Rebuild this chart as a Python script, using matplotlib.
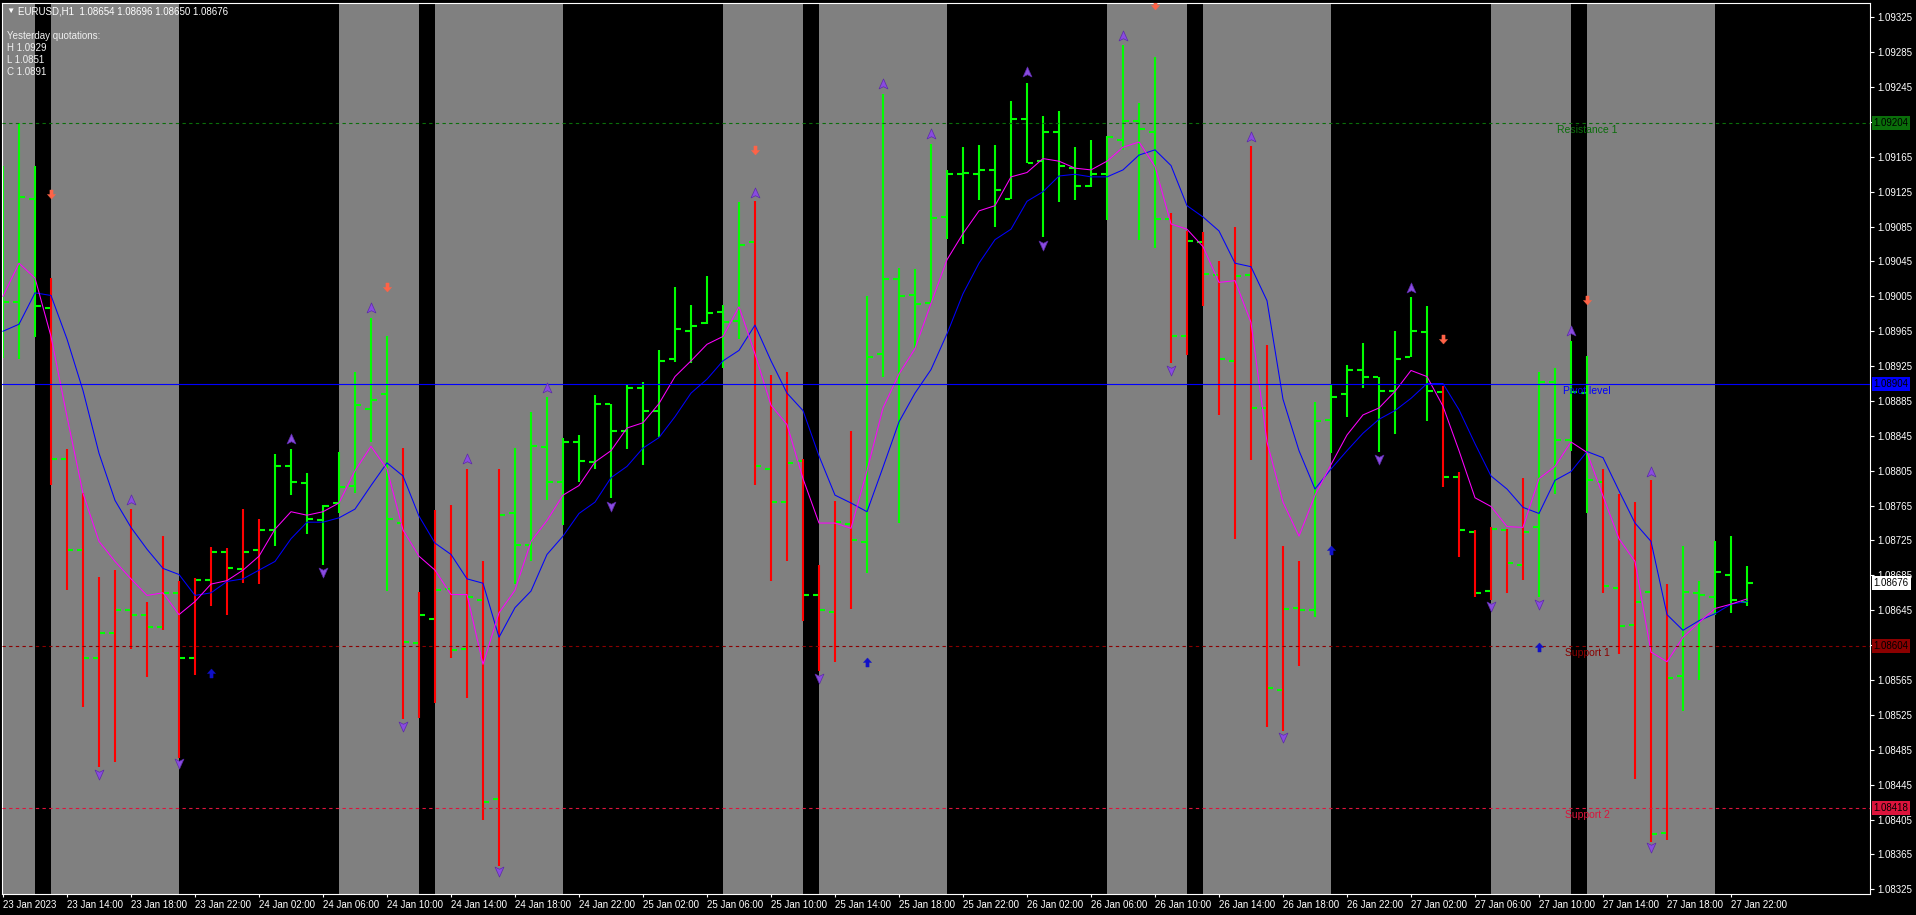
import numpy as np
import pandas as pd
import matplotlib
matplotlib.use("Agg")
import matplotlib.pyplot as plt
from matplotlib.path import Path
from matplotlib.transforms import blended_transform_factory

plt.rcParams["font.family"] = ["Liberation Sans", "DejaVu Sans"]

# ---- data (EURUSD H1, 23-27 Jan 2023) ----
times = pd.date_range("2023-01-23 10:00", periods=110, freq="h")

opens = [1.08960, 1.08999, 1.09117, 1.08992, 1.08818, 1.08714, 1.08590, 1.08619, 1.08645, 1.08640,
         1.08626, 1.08665, 1.08590, 1.08680, 1.08712, 1.08692, 1.08714, 1.08737, 1.08810, 1.08791,
         1.08748, 1.08768, 1.08788, 1.08876, 1.08893, 1.08745, 1.08608, 1.08635, 1.08669, 1.08601,
         1.08657, 1.08429, 1.08756, 1.08720, 1.08832, 1.08792, 1.08838, 1.08815, 1.08882, 1.08850,
         1.08900, 1.08873, 1.08933, 1.08965, 1.08974, 1.08987, 1.08977, 1.09067, 1.08807, 1.08769,
         1.08816, 1.08663, 1.08643, 1.08744, 1.08723, 1.08939, 1.09025, 1.09007, 1.08997, 1.09096,
         1.09145, 1.09145, 1.09150, 1.09117, 1.09208, 1.09160, 1.09194, 1.09152, 1.09131, 1.09145,
         1.09184, 1.09206, 1.09193, 1.09094, 1.08959, 1.09067, 1.09030, 1.08931, 1.09029, 1.08877,
         1.08554, 1.08648, 1.08645, 1.08863, 1.08893, 1.08920, 1.08912, 1.08896, 1.08935, 1.08964,
         1.08895, 1.08798, 1.08735, 1.08667, 1.08737, 1.08697, 1.08740, 1.08907, 1.08840, 1.08894,
         1.08792, 1.08671, 1.08628, 1.08666, 1.08390, 1.08570, 1.08665, 1.08660, 1.08686, 1.08654]
highs = [1.09155, 1.09204, 1.09154, 1.09026, 1.08830, 1.08779, 1.08683, 1.08691, 1.08761, 1.08654,
         1.08730, 1.08678, 1.08682, 1.08718, 1.08716, 1.08761, 1.08750, 1.08824, 1.08830, 1.08802,
         1.08766, 1.08827, 1.08918, 1.08980, 1.08960, 1.08831, 1.08666, 1.08760, 1.08766, 1.08807,
         1.08701, 1.08807, 1.08831, 1.08872, 1.08890, 1.08843, 1.08846, 1.08892, 1.08882, 1.08905,
         1.08907, 1.08943, 1.09016, 1.08995, 1.09028, 1.08995, 1.09113, 1.09114, 1.08915, 1.08918,
         1.08818, 1.08697, 1.08770, 1.08850, 1.09005, 1.09237, 1.09037, 1.09036, 1.09180, 1.09150,
         1.09176, 1.09179, 1.09179, 1.09229, 1.09250, 1.09212, 1.09218, 1.09176, 1.09184, 1.09189,
         1.09293, 1.09227, 1.09279, 1.09101, 1.09080, 1.09079, 1.09046, 1.09084, 1.09177, 1.08949,
         1.08719, 1.08701, 1.08884, 1.08903, 1.08926, 1.08952, 1.08913, 1.08965, 1.09004, 1.08994,
         1.08902, 1.08803, 1.08737, 1.08740, 1.08738, 1.08797, 1.08918, 1.08923, 1.08954, 1.08937,
         1.08807, 1.08778, 1.08769, 1.08794, 1.08675, 1.08719, 1.08678, 1.08724, 1.08730, 1.08696]
lows = [1.08934, 1.08933, 1.08958, 1.08789, 1.08668, 1.08534, 1.08465, 1.08471, 1.08601, 1.08568,
        1.08622, 1.08476, 1.08571, 1.08650, 1.08640, 1.08676, 1.08675, 1.08719, 1.08777, 1.08733,
        1.08697, 1.08756, 1.08779, 1.08838, 1.08667, 1.08520, 1.08521, 1.08539, 1.08590, 1.08544,
        1.08405, 1.08352, 1.08675, 1.08701, 1.08771, 1.08743, 1.08792, 1.08807, 1.08774, 1.08830,
        1.08812, 1.08844, 1.08930, 1.08929, 1.08973, 1.08923, 1.08956, 1.08789, 1.08678, 1.08701,
        1.08633, 1.08575, 1.08586, 1.08646, 1.08688, 1.08912, 1.08745, 1.08946, 1.08997, 1.09071,
        1.09065, 1.09115, 1.09084, 1.09117, 1.09158, 1.09073, 1.09113, 1.09116, 1.09130, 1.09093,
        1.09173, 1.09070, 1.09060, 1.08928, 1.08938, 1.08994, 1.08869, 1.08727, 1.08817, 1.08511,
        1.08507, 1.08581, 1.08637, 1.08825, 1.08867, 1.08900, 1.08827, 1.08847, 1.08935, 1.08862,
        1.08786, 1.08706, 1.08660, 1.08657, 1.08665, 1.08680, 1.08660, 1.08778, 1.08828, 1.08756,
        1.08665, 1.08595, 1.08452, 1.08379, 1.08382, 1.08529, 1.08565, 1.08640, 1.08642, 1.08650]
closes = [1.08998, 1.09119, 1.08994, 1.08818, 1.08714, 1.08590, 1.08619, 1.08645, 1.08640, 1.08626,
          1.08665, 1.08590, 1.08680, 1.08712, 1.08693, 1.08712, 1.08737, 1.08810, 1.08792, 1.08750,
          1.08765, 1.08786, 1.08880, 1.08886, 1.08750, 1.08609, 1.08640, 1.08668, 1.08599, 1.08660,
          1.08425, 1.08754, 1.08720, 1.08833, 1.08792, 1.08838, 1.08816, 1.08882, 1.08851, 1.08900,
          1.08874, 1.08931, 1.08967, 1.08971, 1.08986, 1.08976, 1.09064, 1.08811, 1.08769, 1.08814,
          1.08662, 1.08645, 1.08746, 1.08725, 1.08935, 1.09025, 1.09005, 1.08996, 1.09095, 1.09145,
          1.09147, 1.09150, 1.09127, 1.09208, 1.09158, 1.09193, 1.09155, 1.09132, 1.09145, 1.09188,
          1.09206, 1.09197, 1.09094, 1.08959, 1.09069, 1.09031, 1.08933, 1.09028, 1.08877, 1.08556,
          1.08646, 1.08645, 1.08862, 1.08890, 1.08920, 1.08913, 1.08896, 1.08933, 1.08965, 1.08896,
          1.08798, 1.08737, 1.08665, 1.08738, 1.08699, 1.08735, 1.08907, 1.08840, 1.08895, 1.08794,
          1.08673, 1.08627, 1.08654, 1.08388, 1.08567, 1.08666, 1.08662, 1.08689, 1.08657, 1.08676]

# trend colour of each bar, as runs (g = up colour, r = down colour)
bar_color_runs = [("g", 3), ("r", 14), ("g", 8), ("r", 7), ("g", 15), ("r", 7), ("g", 19),
                  ("r", 9), ("g", 8), ("r", 6), ("g", 4), ("r", 5), ("g", 5)]

ma_fast = [1.09005, 1.09043, 1.09026, 1.08959, 1.08867, 1.08779, 1.08724, 1.08701, 1.08681, 1.08662,
           1.08665, 1.08640, 1.08655, 1.08675, 1.08679, 1.08691, 1.08707, 1.08738, 1.08758, 1.08754,
           1.08758, 1.08768, 1.08805, 1.08833, 1.08807, 1.08737, 1.08707, 1.08691, 1.08663, 1.08663,
           1.08583, 1.08642, 1.08668, 1.08724, 1.08748, 1.08777, 1.08788, 1.08815, 1.08828, 1.08854,
           1.08860, 1.08882, 1.08913, 1.08931, 1.08950, 1.08959, 1.08993, 1.08939, 1.08880, 1.08858,
           1.08796, 1.08745, 1.08745, 1.08739, 1.08805, 1.08877, 1.08916, 1.08945, 1.08997, 1.09047,
           1.09077, 1.09103, 1.09109, 1.09142, 1.09147, 1.09163, 1.09160, 1.09152, 1.09150, 1.09160,
           1.09176, 1.09182, 1.09154, 1.09088, 1.09082, 1.09062, 1.09021, 1.09023, 1.08975, 1.08838,
           1.08769, 1.08730, 1.08777, 1.08812, 1.08846, 1.08869, 1.08877, 1.08896, 1.08920, 1.08913,
           1.08879, 1.08828, 1.08774, 1.08764, 1.08741, 1.08740, 1.08796, 1.08810, 1.08838, 1.08826,
           1.08776, 1.08727, 1.08701, 1.08597, 1.08586, 1.08614, 1.08631, 1.08647, 1.08652, 1.08658]
ma_slow = [1.08965, 1.08973, 1.09009, 1.09006, 1.08956, 1.08897, 1.08825, 1.08771, 1.08740, 1.08715,
           1.08693, 1.08686, 1.08662, 1.08665, 1.08678, 1.08681, 1.08691, 1.08701, 1.08727, 1.08746,
           1.08746, 1.08751, 1.08761, 1.08788, 1.08814, 1.08799, 1.08753, 1.08722, 1.08709, 1.08681,
           1.08676, 1.08614, 1.08648, 1.08667, 1.08709, 1.08730, 1.08756, 1.08769, 1.08797, 1.08810,
           1.08831, 1.08843, 1.08867, 1.08894, 1.08910, 1.08931, 1.08943, 1.08972, 1.08931, 1.08894,
           1.08874, 1.08822, 1.08777, 1.08768, 1.08758, 1.08809, 1.08861, 1.08894, 1.08921, 1.08962,
           1.09008, 1.09043, 1.09070, 1.09082, 1.09114, 1.09125, 1.09143, 1.09145, 1.09142, 1.09142,
           1.09150, 1.09167, 1.09173, 1.09155, 1.09109, 1.09096, 1.09080, 1.09043, 1.09039, 1.09000,
           1.08887, 1.08828, 1.08784, 1.08807, 1.08828, 1.08848, 1.08864, 1.08874, 1.08888, 1.08905,
           1.08905, 1.08875, 1.08836, 1.08799, 1.08784, 1.08763, 1.08756, 1.08794, 1.08804, 1.08827,
           1.08820, 1.08782, 1.08745, 1.08724, 1.08640, 1.08622, 1.08633, 1.08641, 1.08652, 1.08655]

fractal_up_bars = [8, 18, 23, 29, 34, 47, 55, 58, 64, 70, 78, 88, 98, 103]
fractal_up_prices = [1.08771, 1.08841, 1.08992, 1.08818, 1.08900, 1.09124, 1.09248, 1.09191, 1.09262,
                     1.09304, 1.09188, 1.09015, 1.08965, 1.08803]
fractal_dn_bars = [6, 11, 20, 25, 31, 38, 51, 65, 73, 80, 86, 93, 96, 103]
fractal_dn_prices = [1.08457, 1.08470, 1.08689, 1.08512, 1.08346, 1.08765, 1.08567, 1.09064, 1.08920,
                     1.08500, 1.08818, 1.08650, 1.08652, 1.08373]
sell_bars = [3, 24, 47, 72, 90, 99]
sell_prices = [1.09122, 1.09016, 1.09173, 1.09339, 1.08956, 1.09001]
buy_bars = [13, 54, 83, 96]
buy_prices = [1.08573, 1.08586, 1.08714, 1.08603]

levels = {"Resistance 1": 1.09204, "Pivot level": 1.08904, "Support 1": 1.08604, "Support 2": 1.08418}
level_colors = {"Resistance 1": "#0a6e0a", "Pivot level": "#0000ff",
                "Support 1": "#8b0000", "Support 2": "#dc143c"}
yesterday = {"H": "1.0929", "L": "1.0851", "C": "1.0891"}
sessions = [(7, 12), (13, 21)]  # london, new york (hours)
price_ticks = [1.08325 + 0.0004 * k for k in range(26)]

# ---- figure ----
W, H = 1916, 915
fig = plt.figure(figsize=(W / 100, H / 100), dpi=100, facecolor="black")
ax = fig.add_axes([2 / W, 21 / H, 1868 / W, 891 / H], facecolor="black")
ax.set_xlim(-1 / 16, 1867 / 16)
ax.set_ylim(1.083196, 1.093414)

idx = np.arange(len(times))
hour = pd.Timedelta(hours=1)

# session shading
for day in pd.date_range("2023-01-23", "2023-01-27"):
    for h0, h1 in sessions:
        x0 = (day + h0 * hour - times[0]) / hour
        x1 = (day + h1 * hour - times[0]) / hour
        ax.axvspan(x0, x1, color="#808080", lw=0, zorder=0)

# bars
bar_cols = []
for c, n in bar_color_runs:
    bar_cols += ["#00ff00" if c == "g" else "#ff0000"] * n
vl = ax.vlines(idx, lows, highs, colors=bar_cols, linewidth=1.5, zorder=2)
vl.set_capstyle("butt")
t1 = ax.hlines(opens, idx - 0.37, idx - 0.07, colors="#00ff00", linewidth=1.5, zorder=2)
t2 = ax.hlines(closes, idx + 0.07, idx + 0.37, colors="#00ff00", linewidth=1.5, zorder=2)
t1.set_capstyle("butt")
t2.set_capstyle("butt")

# moving averages
ax.plot(idx, ma_slow, color="#0000ff", lw=0.75, zorder=3)
ax.plot(idx, ma_fast, color="#ff00ff", lw=0.75, zorder=3)

# pivot levels
tr = blended_transform_factory(ax.transAxes, ax.transData)
for name, val in levels.items():
    col = level_colors[name]
    ls = "-" if name == "Pivot level" else (0, (3, 3))
    ax.axhline(val, color=col, lw=0.8, ls=ls, zorder=4)
    ax.annotate(name, xy=(99, val), xytext=(0, -5), textcoords="offset points",
                ha="center", va="center", color=col, fontsize=7.5, zorder=5)
    ax.text(1.0019, val, f"{val:.5f}", transform=tr, ha="left", va="center", fontsize=7,
            color="black", clip_on=False, zorder=10,
            bbox=dict(boxstyle="square,pad=0.2", fc=col, ec="none"))

# current price
ax.text(1.0019, closes[-1], f"{closes[-1]:.5f}", transform=tr, ha="left", va="center",
        fontsize=7, color="black", clip_on=False, zorder=10,
        bbox=dict(boxstyle="square,pad=0.2", fc="white", ec="none"))

# arrows
head = Path([(0, 1), (0.8, -0.8), (0, -0.4), (-0.8, -0.8), (0, 1)],
            [Path.MOVETO, Path.LINETO, Path.LINETO, Path.LINETO, Path.CLOSEPOLY])
head_dn = Path(head.vertices * [1, -1], head.codes)
arrow_up = Path([(0, 1), (0.9, 0), (0.35, 0), (0.35, -1), (-0.35, -1), (-0.35, 0), (-0.9, 0), (0, 1)],
                [Path.MOVETO] + [Path.LINETO] * 6 + [Path.CLOSEPOLY])
arrow_dn = Path(arrow_up.vertices * [1, -1], arrow_up.codes)

ax.plot(fractal_up_bars, fractal_up_prices, ls="none", marker=head, ms=8,
        mfc="#8a4be0", mec="#5b2aa8", mew=0.5, zorder=6)
ax.plot(fractal_dn_bars, fractal_dn_prices, ls="none", marker=head_dn, ms=8,
        mfc="#8a4be0", mec="#5b2aa8", mew=0.5, zorder=6)
ax.plot(sell_bars, sell_prices, ls="none", marker=arrow_dn, ms=6.5,
        mfc="#ff6347", mec="#ff6347", mew=0.3, zorder=6)
ax.plot(buy_bars, buy_prices, ls="none", marker=arrow_up, ms=6.5,
        mfc="#1010c8", mec="#1010c8", mew=0.3, zorder=6)

# axes styling
for s in ax.spines.values():
    s.set_color("white")
    s.set_linewidth(0.8)
ax.yaxis.tick_right()
ax.set_yticks(price_ticks)
# labels hidden under a level box on the terminal are left blank
covered = [p for p in price_ticks if any(abs(p - v) < 0.00005 for v in levels.values())]
ax.set_yticklabels(["" if p in covered else f"{p:.5f}" for p in price_ticks])
ax.tick_params(axis="y", length=3, width=0.8, pad=2.5, colors="white", labelsize=7)

xt = idx[::4]
xl = [times[0].strftime("%d %b %Y")] + [t.strftime("%d %b %H:%M") for t in times[4::4]]
ax.set_xticks(xt)
ax.set_xticklabels(xl)
ax.tick_params(axis="x", length=2, width=0.8, pad=2, colors="white", labelsize=7)
for lbl in ax.get_xticklabels():
    lbl.set_ha("left")

# header texts
def fx(x):
    return x / W

def fy(y):
    return 1 - y / H

fig.text(fx(6), fy(11), "\u25bc", fontsize=6, color="white", va="center", ha="left")
fig.text(fx(18), fy(11), "EURUSD,H1  " + " ".join(f"{v:.5f}" for v in
         (opens[-1], highs[-1], lows[-1], closes[-1])), fontsize=7, color="white",
         va="center", ha="left")
fig.text(fx(7), fy(36), "Yesterday quotations:", fontsize=7, color="#f0f0f0", va="center")
for k, (lab, v) in enumerate(yesterday.items()):
    fig.text(fx(7), fy(48 + 12 * k), f"{lab} {v}", fontsize=7, color="#f0f0f0", va="center")

fig.savefig("out.png", dpi=100, facecolor="black")
